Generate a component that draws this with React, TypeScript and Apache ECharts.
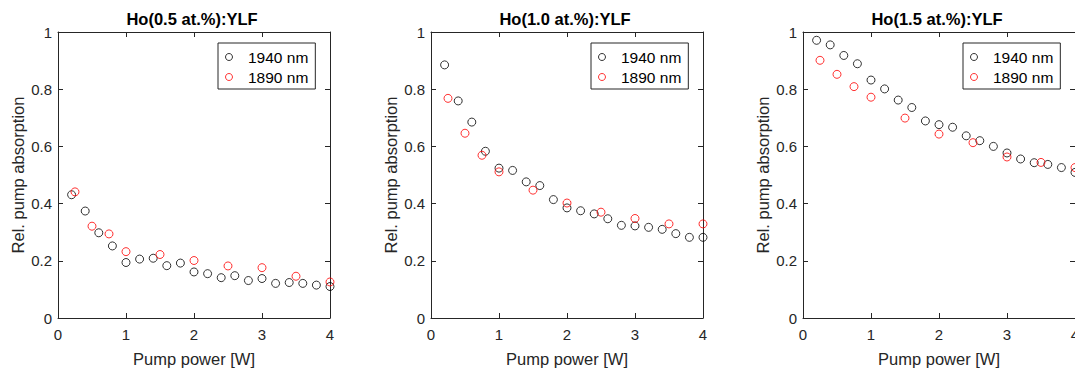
import React, { useEffect, useRef } from "react";
import * as echarts from "echarts";

const TITLES = ["Ho(0.5 at.%):YLF", "Ho(1.0 at.%):YLF", "Ho(1.5 at.%):YLF"];
const X_1940 = [0.2, 0.4, 0.6, 0.8, 1.0, 1.2, 1.4, 1.6, 1.8, 2.0, 2.2, 2.4, 2.6, 2.8, 3.0, 3.2, 3.4, 3.6, 3.8, 4.0];
const X_1890 = [0.25, 0.5, 0.75, 1.0, 1.5, 2.0, 2.5, 3.0, 3.5, 4.0];

const Y_05_1940 = [0.431, 0.374, 0.298, 0.252, 0.194, 0.206, 0.209, 0.183, 0.192, 0.161, 0.155, 0.141, 0.148, 0.131, 0.138, 0.121, 0.124, 0.121, 0.115, 0.11];
const Y_05_1890 = [0.441, 0.321, 0.294, 0.232, 0.222, 0.201, 0.182, 0.176, 0.146, 0.126];
const Y_10_1940 = [0.885, 0.759, 0.685, 0.583, 0.524, 0.516, 0.476, 0.463, 0.414, 0.385, 0.375, 0.364, 0.347, 0.324, 0.322, 0.317, 0.31, 0.295, 0.282, 0.282];
const Y_10_1890 = [0.768, 0.646, 0.569, 0.511, 0.447, 0.402, 0.37, 0.348, 0.329, 0.329];
const Y_15_1940 = [0.971, 0.955, 0.918, 0.889, 0.832, 0.801, 0.762, 0.736, 0.689, 0.676, 0.667, 0.637, 0.62, 0.6, 0.577, 0.556, 0.543, 0.537, 0.526, 0.509];
const Y_15_1890 = [0.901, 0.852, 0.809, 0.772, 0.699, 0.643, 0.613, 0.563, 0.544, 0.526];

const SERIES_NAMES = ["1940 nm", "1890 nm"];
const X_NAME = "Pump power [W]";
const Y_NAME = "Rel. pump absorption";

const FONT = "'Liberation Sans', Arial, Helvetica, sans-serif";
const AXIS_COLOR = "#262626";
const GRID_LEFTS = [58, 431, 803];
const GRID_WIDTH = 272;
const GRID_TOP = 32;
const GRID_HEIGHT = 290;

const zip = (xs: number[], ys: number[]) => xs.map((x, i) => [x, ys[i]]);

export default function App() {
  const ref = useRef<HTMLDivElement>(null);
  useEffect(() => {
    if (!ref.current) return;
    const chart = echarts.init(ref.current, undefined, { renderer: "svg" });
    const panels = [
      [Y_05_1940, Y_05_1890],
      [Y_10_1940, Y_10_1890],
      [Y_15_1940, Y_15_1890],
    ];
    const colors = ["#000000", "#ff0000"];
    const grids: any[] = [];
    const xAxes: any[] = [];
    const yAxes: any[] = [];
    const series: any[] = [];
    const titles: any[] = [];
    const legends: any[] = [];
    const tick = { show: true, inside: true, length: 5, lineStyle: { color: AXIS_COLOR, width: 1 } };
    const line = { show: true, onZero: false, lineStyle: { color: AXIS_COLOR, width: 1 } };
    panels.forEach((p, i) => {
      grids.push({ left: GRID_LEFTS[i], top: GRID_TOP, width: GRID_WIDTH, height: GRID_HEIGHT, containLabel: false });
      xAxes.push({
        type: "value", gridIndex: i, min: 0, max: 4, interval: 1, position: "bottom",
        name: X_NAME, nameLocation: "middle", nameGap: 32,
        nameTextStyle: { fontFamily: FONT, fontSize: 16.5, color: AXIS_COLOR },
        axisLine: line, axisTick: tick, splitLine: { show: false },
        axisLabel: { fontFamily: FONT, fontSize: 15, color: AXIS_COLOR, margin: 9 },
      });
      xAxes.push({
        type: "value", gridIndex: i, min: 0, max: 4, interval: 1, position: "top",
        axisLine: line, axisTick: tick, splitLine: { show: false }, axisLabel: { show: false },
      });
      yAxes.push({
        type: "value", gridIndex: i, min: 0, max: 1, interval: 0.2, position: "left",
        name: Y_NAME, nameLocation: "middle", nameGap: 32,
        nameTextStyle: { fontFamily: FONT, fontSize: 16.5, color: AXIS_COLOR },
        axisLine: line, axisTick: tick, splitLine: { show: false },
        axisLabel: { fontFamily: FONT, fontSize: 15, color: AXIS_COLOR, margin: 6 },
      });
      yAxes.push({
        type: "value", gridIndex: i, min: 0, max: 1, interval: 0.2, position: "right",
        axisLine: line, axisTick: tick, splitLine: { show: false }, axisLabel: { show: false },
      });
      [X_1940, X_1890].forEach((xs, k) => {
        series.push({
          type: "scatter", name: SERIES_NAMES[k], xAxisIndex: i * 2, yAxisIndex: i * 2,
          data: zip(xs, p[k]), symbol: "circle", symbolSize: 8, clip: false,
          itemStyle: { color: "rgba(0,0,0,0)", borderColor: colors[k], borderWidth: 1 },
          emphasis: { disabled: true },
        });
      });
      titles.push({
        text: TITLES[i], left: GRID_LEFTS[i] + 134, top: 10, textAlign: "center", padding: 0,
        textStyle: { fontFamily: FONT, fontSize: 16.5, fontWeight: "bold", color: "#000" },
      });
      legends.push({
        left: GRID_LEFTS[i] + 160, top: 43, orient: "vertical", selectedMode: false,
        padding: [6, 7, 4, 7], itemGap: 4, itemWidth: 22, itemHeight: 7, icon: "circle",
        borderColor: "#262626", borderWidth: 1, backgroundColor: "#fff",
        textStyle: { fontFamily: FONT, fontSize: 15.5, color: "#000", lineHeight: 16, padding: [0, 0, 0, 3] },
        data: SERIES_NAMES.map((n, k) => ({
          name: n, icon: "circle",
          itemStyle: { color: "rgba(0,0,0,0)", borderColor: colors[k], borderWidth: 1 },
        })),
      });
    });
    chart.setOption({
      animation: false,
      backgroundColor: "#fff",
      title: titles,
      legend: legends,
      grid: grids,
      xAxis: xAxes,
      yAxis: yAxes,
      series,
    });
    return () => chart.dispose();
  }, []);
  return (
    <div
      ref={ref}
      style={{ position: "fixed", left: 0, top: 0, width: 1100, height: 372, background: "#fff" }}
    />
  );
}
